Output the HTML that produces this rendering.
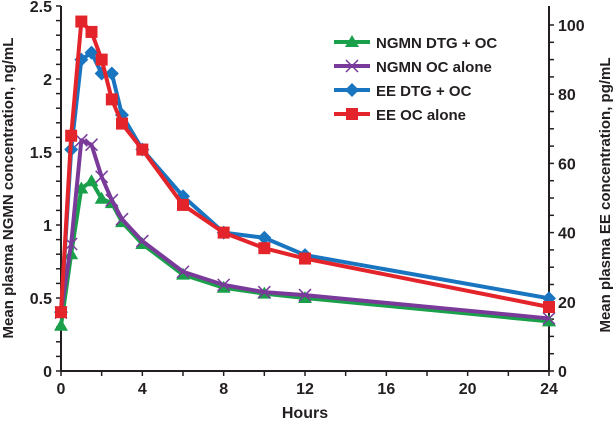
<!DOCTYPE html>
<html><head><meta charset="utf-8"><style>
body{margin:0;background:#fff;}
svg{display:block;font-family:"Liberation Sans",Arial,sans-serif;font-weight:bold;}
</style></head><body>
<svg id="chart" width="616" height="425"></svg>
<script>
const times=[0,0.5,1,1.5,2,2.5,3,4,6,8,10,12,24];
const ngmnDtg=[0.31,0.8,1.25,1.3,1.18,1.15,1.02,0.87,0.66,0.57,0.53,0.5,0.34];
const ngmnOc=[0.4,0.87,1.58,1.55,1.33,1.17,1.04,0.89,0.68,0.59,0.54,0.52,0.36];
const eeDtg=[17,64,90,92,86,86,74,64,50.5,40,38.5,33.5,21];
const eeOc=[17,68,101,98,90,78.5,71.5,64,48,40,35.5,32.5,18.5];
const xTicks=[0,4,8,12,16,20,24];
const yLeftTicks=[0,0.5,1,1.5,2,2.5];
const yLeftLabels=["0","0.5","1","1.5","2","2.5"];
const yRightTicks=[0,20,40,60,80,100];

const NS="http://www.w3.org/2000/svg";
const svg=document.getElementById('chart');
const X0=61,Y0=371;
const xs=t=>X0+t*(549-X0)/24;
const yl=v=>Y0-v*146;
const yr=v=>Y0-v*3.46;
function mk(tag,attrs,parent){const e=document.createElementNS(NS,tag);for(const k in attrs)e.setAttribute(k,attrs[k]);(parent||svg).appendChild(e);return e;}
const axes=mk('g',{});


mk('line',{x1:X0,y1:6,x2:X0,y2:Y0,stroke:'#231f20','stroke-width':2},axes);
mk('line',{x1:549,y1:6,x2:549,y2:Y0,stroke:'#231f20','stroke-width':2},axes);
mk('line',{x1:X0,y1:Y0,x2:549,y2:Y0,stroke:'#231f20','stroke-width':2},axes);
for(let v=0;v<=2.5001;v+=0.1){mk('line',{x1:X0-5,x2:X0,y1:yl(v),y2:yl(v),stroke:'#231f20','stroke-width':1.5},axes);}
for(let v=0;v<=100;v+=5){mk('line',{x1:549,x2:554,y1:yr(v),y2:yr(v),stroke:'#231f20','stroke-width':1.5},axes);}
for(let t=0;t<=24;t+=2){mk('line',{x1:xs(t),x2:xs(t),y1:Y0,y2:Y0+5,stroke:'#231f20','stroke-width':1.5},axes);}
yLeftTicks.forEach((v,i)=>{const t=mk('text',{x:X0-9,y:yl(v)+6,'text-anchor':'end','font-size':16,fill:'#231f20'});t.textContent=yLeftLabels[i];
});
yRightTicks.forEach(v=>{const t=mk('text',{x:558,y:yr(v)+6,'font-size':16,fill:'#231f20'});t.textContent=v;
});
xTicks.forEach(v=>{const t=mk('text',{x:xs(v),y:Y0+23,'text-anchor':'middle','font-size':16,fill:'#231f20'});t.textContent=v;
});
let tt=mk('text',{x:305,y:418,'text-anchor':'middle','font-size':16,fill:'#231f20'});tt.textContent='Hours';

tt=mk('text',{transform:'translate(13,188) rotate(-90)','text-anchor':'middle','font-size':15,fill:'#231f20'});tt.textContent='Mean plasma NGMN concentration, ng/mL';

tt=mk('text',{transform:'translate(610,195) rotate(-90)','text-anchor':'middle','font-size':15,fill:'#231f20'});tt.textContent='Mean plasma EE concentration, pg/mL';


function marker(g,type,x,y,c){
 if(type==='tri')mk('polygon',{points:`${x},${y-7} ${x-7},${y+5} ${x+7},${y+5}`,fill:c},g);
 else if(type==='x'){mk('line',{x1:x-6,y1:y-6,x2:x+6,y2:y+6,stroke:c,'stroke-width':1.5},g);mk('line',{x1:x-6,y1:y+6,x2:x+6,y2:y-6,stroke:c,'stroke-width':1.5},g);}
 else if(type==='dia')mk('polygon',{points:`${x},${y-7} ${x+7},${y} ${x},${y+7} ${x-7},${y}`,fill:c},g);
 else mk('rect',{x:x-6,y:y-6,width:12,height:12,fill:c},g);
}
const series=[
 {vals:ngmnDtg,sc:yl,c:'#1aa04a',m:'tri',name:'series-ngmn-dtg-oc',label:'NGMN DTG + OC'},
 {vals:ngmnOc,sc:yl,c:'#7a3a9a',m:'x',name:'series-ngmn-oc-alone',label:'NGMN OC alone'},
 {vals:eeDtg,sc:yr,c:'#1a75c0',m:'dia',name:'series-ee-dtg-oc',label:'EE DTG + OC'},
 {vals:eeOc,sc:yr,c:'#e3242b',m:'sq',name:'series-ee-oc-alone',label:'EE OC alone'}];
series.forEach((s,si)=>{
 const g=mk('g',{});
 
 
 mk('polyline',{points:times.map((t,i)=>xs(t)+','+s.sc(s.vals[i])).join(' '),fill:'none',stroke:s.c,'stroke-width':4,'stroke-linejoin':'round'},g);
 times.forEach((t,i)=>marker(g,s.m,xs(t),s.sc(s.vals[i]),s.c));
 const lg=mk('g',{});
 
 
 const ly=42+si*24;
 mk('line',{x1:334,x2:370,y1:ly,y2:ly,stroke:s.c,'stroke-width':4},lg);
 marker(lg,s.m,352,ly,s.c);
 const t=mk('text',{x:376,y:ly+6,'font-size':15,fill:'#231f20'},lg);t.textContent=s.label;
});
</script>
</body></html>
